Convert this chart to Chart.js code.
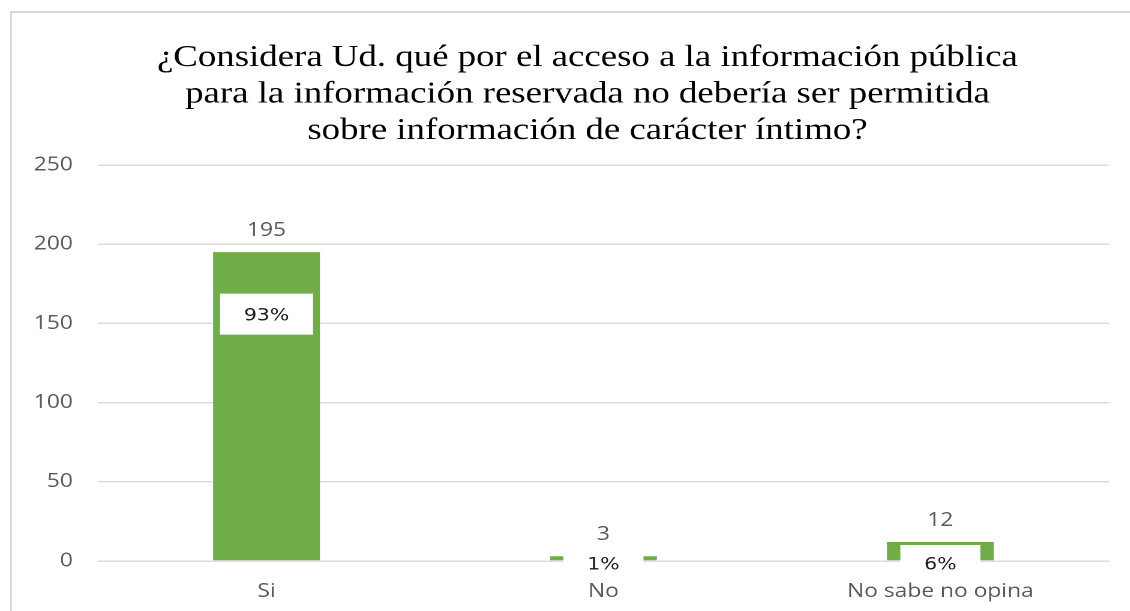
<!DOCTYPE html>
<html>
<head>
<meta charset="utf-8">
<script src="https://cdn.jsdelivr.net/npm/chart.js@4.4.1/dist/chart.umd.min.js"></script>
<style>
    html, body { margin: 0; padding: 0; background: #fff; overflow: hidden; }
    #frame { position: absolute; left: 10px; top: 11px; width: 1200px; height: 700px; border: 2px solid #d9d9d9; }
    #wrap { position: absolute; left: 0; top: 0; width: 942px; height: 611px; transform: scaleX(1.2); transform-origin: 0 0; }
</style>
</head>
<body>
<div id="frame"></div>
<div id="wrap"><canvas id="chart" width="942" height="611" style="width:942px;height:611px"></canvas></div>
<script>
// chart data
const categories = ["Si", "No", "No sabe no opina"];
const counts = [195, 3, 12];
const percents = ["93%", "1%", "6%"];
const yMax = 250;
const yStep = 50;

const titleLines = [
    "¿Considera Ud. qué por el acceso a la información pública",
    "para la información reservada no debería ser permitida",
    "sobre información de carácter íntimo?"
];

const gray = "#595959";
const green = "#70ad47";

// title, drawn a bit left of the plot centre like the original
const titlePlugin = {
    id: "titlePlugin",
    afterDraw(chart) {
        const ctx = chart.ctx;
        const area = chart.chartArea;
        const cx = (area.left + area.right) / 2 - 13.3;
        ctx.save();
        ctx.fillStyle = "#000000";
        ctx.font = "30.7px 'Liberation Serif'";
        ctx.textAlign = "center";
        ctx.textBaseline = "middle";
        titleLines.forEach((line, i) => {
            ctx.fillText(line, cx, area.top - 107 + i * 36.5);
        });
        ctx.restore();
    }
};

// value above each bar + white percentage box
const barLabels = {
    id: "barLabels",
    afterDatasetsDraw(chart) {
        const ctx = chart.ctx;
        const meta = chart.getDatasetMeta(0);
        const base = chart.scales.y.getPixelForValue(0);
        meta.data.forEach((bar, i) => {
            ctx.save();
            ctx.fillStyle = gray;
            ctx.font = "19px 'Open Sans'";
            ctx.textAlign = "center";
            ctx.textBaseline = "alphabetic";
            ctx.fillText(String(counts[i]), bar.x, bar.y - 16);

            const tall = (base - bar.y) > 60;
            const w = tall ? 77.5 : 66.7;
            const h = tall ? 41 : 36;
            const cy = tall ? bar.y + 62 : base + 2;
            ctx.fillStyle = "#ffffff";
            ctx.fillRect(bar.x - w / 2, cy - h / 2, w, h);
            ctx.fillStyle = "#1a1a1a";
            ctx.font = "17px 'DejaVu Sans'";
            ctx.textBaseline = "middle";
            ctx.fillText(percents[i], bar.x, cy + 2);
            ctx.restore();
        });
    }
};

const ctx = document.getElementById("chart").getContext("2d");
new Chart(ctx, {
    type: "bar",
    data: {
        labels: categories,
        datasets: [{
            data: counts,
            backgroundColor: green,
            categoryPercentage: 1,
            barPercentage: 0.317
        }]
    },
    options: {
        responsive: false,
        animation: false,
        devicePixelRatio: 2,
        layout: { padding: { left: 15, right: 18, top: 165, bottom: 0 } },
        plugins: {
            legend: { display: false },
            tooltip: { enabled: false },
            title: { display: false }
        },
        scales: {
            x: {
                grid: { display: false },
                border: { display: false },
                ticks: { color: gray, font: { family: "'Open Sans'", size: 19 }, padding: 11 },
                afterFit: scale => { scale.height = 50; }
            },
            y: {
                min: 0,
                max: yMax,
                ticks: { stepSize: yStep, color: gray, font: { family: "'Open Sans'", size: 19 }, padding: 21 },
                grid: { color: "#d9d9d9", lineWidth: 1.4, drawTicks: false },
                border: { display: false },
                afterFit: scale => { scale.width = 66.7; }
            }
        }
    },
    plugins: [barLabels, titlePlugin]
});
</script>
</body>
</html>
